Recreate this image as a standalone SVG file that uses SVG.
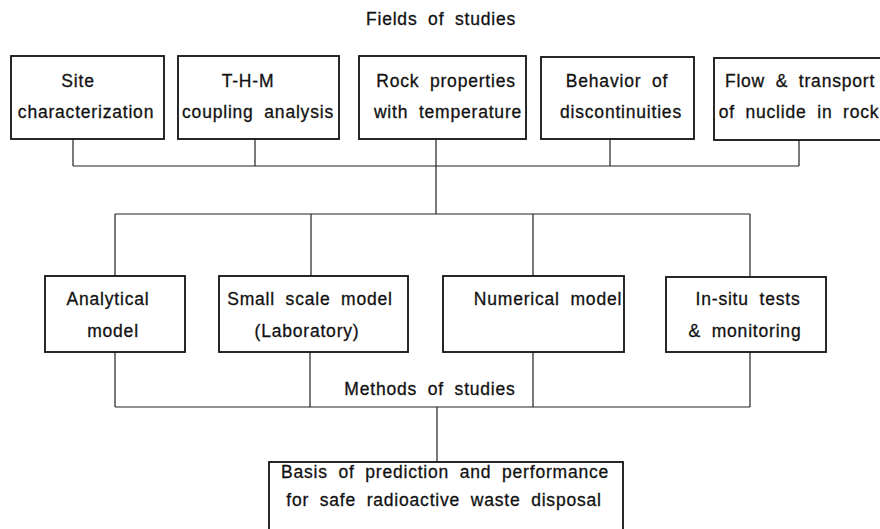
<svg xmlns="http://www.w3.org/2000/svg" width="880" height="529" viewBox="0 0 880 529">
<style>
.box{fill:#fff;stroke:#111;stroke-width:1.8}
.con{fill:none;stroke:#222;stroke-width:1.2}
text{font-family:"Liberation Sans",Arial,sans-serif;font-size:17.5px;fill:#111;stroke:#111;stroke-width:0.3;text-anchor:middle;letter-spacing:0.8px;word-spacing:5px}
</style>
<rect width="880" height="529" fill="#fff"/>
<text id="title" x="441" y="25">Fields of studies</text>
<g id="connectors">
<path class="con" d="M73,139V166M255,139V166M610,139V166M799,139V166M73,166H799M436,139V214M115,214H750M115,214V276M311,214V276M533,214V276M750,214V276"/>
<path class="con" d="M115,352V407M310,352V407M533,352V407M750,352V407M115,407H750M437,407V462"/>
</g>
<g id="n1"><rect class="box" x="11" y="56" width="153" height="83"/><text x="78" y="87">Site</text><text x="86" y="118">characterization</text></g>
<g id="n2"><rect class="box" x="178" y="56" width="161" height="83"/><text x="248" y="87">T-H-M</text><text x="258" y="118">coupling analysis</text></g>
<g id="n3"><rect class="box" x="359" y="56" width="167" height="83"/><text x="446" y="87">Rock properties</text><text x="448" y="118">with temperature</text></g>
<g id="n4"><rect class="box" x="541" y="57" width="153" height="82"/><text x="617" y="87">Behavior of</text><text x="621" y="118">discontinuities</text></g>
<g id="n5"><rect class="box" x="714" y="58" width="172" height="82"/><text x="800" y="87">Flow &amp; transport</text><text x="799" y="118">of nuclide in rock</text></g>
<g id="m1"><rect class="box" x="45" y="276" width="140" height="76"/><text x="108" y="305">Analytical</text><text x="113" y="337">model</text></g>
<g id="m2"><rect class="box" x="219" y="276" width="189" height="76"/><text x="310" y="305">Small scale model</text><text x="307" y="337">(Laboratory)</text></g>
<g id="m3"><rect class="box" x="443" y="276" width="181" height="76"/><text x="548" y="305">Numerical model</text></g>
<g id="m4"><rect class="box" x="666" y="277" width="160" height="75"/><text x="748" y="305">In-situ tests</text><text x="745" y="337">&amp; monitoring</text></g>
<text id="methods" x="430" y="395">Methods of studies</text>
<g id="result"><rect class="box" x="269" y="462" width="354" height="80"/><text x="445" y="478">Basis of prediction and performance</text><text x="444" y="506">for safe radioactive waste disposal</text></g>
</svg>
